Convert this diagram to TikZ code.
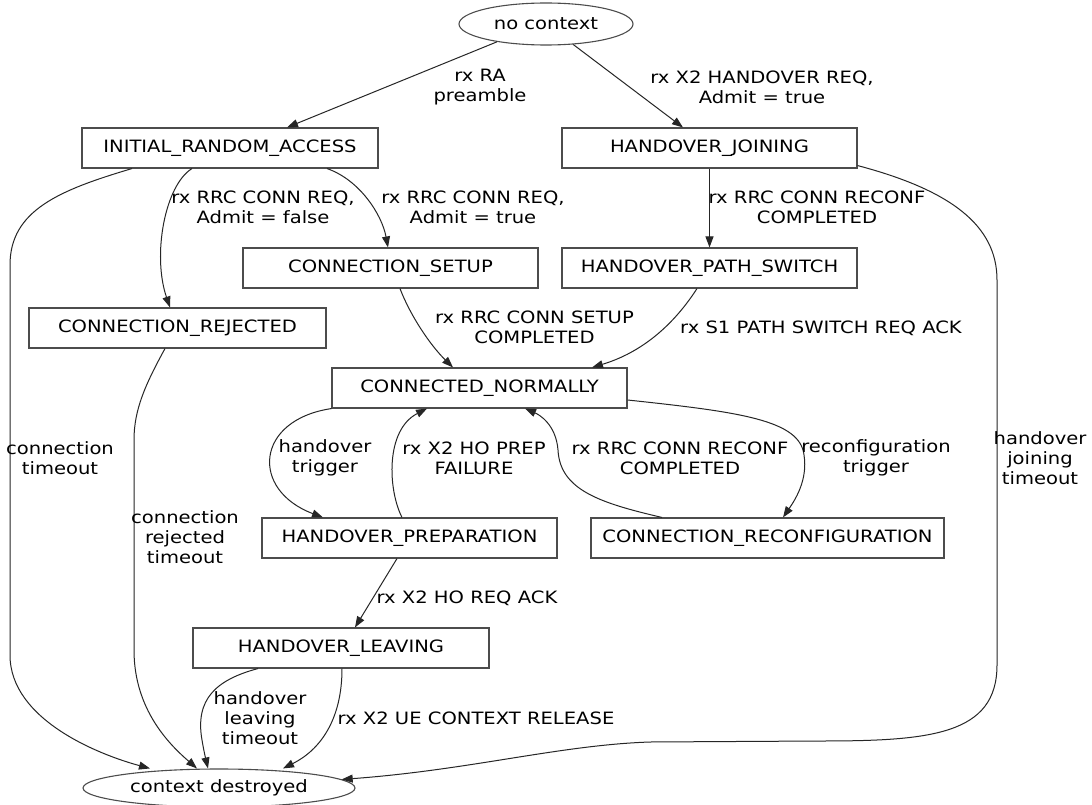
\documentclass[tikz,border=0pt]{standalone}
\usepackage{fontspec}
\setmainfont{DejaVu Sans}[FakeStretch=1.15]
\usetikzlibrary{arrows.meta,shapes.geometric}

\tikzset{
  state/.style={draw=black!70, line width=1.1pt, minimum height=40pt, inner sep=0pt,
                font=\fontsize{17}{20}\selectfont},
  endstate/.style={ellipse, draw=black!70, line width=1.1pt, inner sep=0pt,
                font=\fontsize{17}{20}\selectfont},
  lbl/.style={align=center, inner sep=0pt, font=\fontsize{17}{20}\selectfont},
  edge/.style={draw=black!85, line width=1pt, -{Triangle[length=11pt,width=8pt]}},
}

\begin{document}
\begin{tikzpicture}[x=1pt,y=-1pt]
\useasboundingbox[fill=white] (0,0) rectangle (1092,805);

% states
\node[endstate, minimum width=174pt, minimum height=42pt] (nc) at (546,24) {no context};
\node[state, minimum width=296pt] (ira) at (230,148) {INITIAL\_RANDOM\_ACCESS};
\node[state, minimum width=295pt] (hj)  at (709.5,148) {HANDOVER\_JOINING};
\node[state, minimum width=295pt] (cs)  at (390.5,268) {CONNECTION\_SETUP};
\node[state, minimum width=295pt] (hps) at (709.5,268) {HANDOVER\_PATH\_SWITCH};
\node[state, minimum width=297pt] (cr)  at (177.5,328) {CONNECTION\_REJECTED};
\node[state, minimum width=295pt] (cn)  at (479.5,388) {CONNECTED\_NORMALLY};
\node[state, minimum width=295pt] (hp)  at (409.5,538) {HANDOVER\_PREPARATION};
\node[state, minimum width=353pt] (rc)  at (767.5,538) {CONNECTION\_RECONFIGURATION};
\node[state, minimum width=296pt] (hl)  at (341,648) {HANDOVER\_LEAVING};
\node[endstate, minimum width=272pt, minimum height=38pt] (cd) at (219,788) {context destroyed};

% transitions
\draw[edge] (nc.200) -- ([xshift=57pt]ira.north);
\draw[edge] (nc.-37) -- ([xshift=-26.5pt]hj.north);

\draw[edge] ([xshift=-38pt]ira.south) .. controls (165,185) and (152,255) .. ([xshift=-7.5pt]cr.north);
\draw[edge] ([xshift=97pt]ira.south) .. controls (360,180) and (382,215) .. ([xshift=-2.5pt]cs.north);
\draw[edge] ([xshift=-98pt]ira.south) .. controls (60,190) and (10,210) .. (10,265)
  -- (10,655) .. controls (10,720) and (100,755) .. ([xshift=-69pt]cd.north);

\draw[edge] (hj.south) -- (hps.north);
\draw[edge] ([yshift=3pt]hj.south east) .. controls (950,190) and (997,225) .. (997,280)
  -- (997,665) .. controls (997,735) and (930,741) .. (820,741)
  -- (650,742) .. controls (560,745) and (470,770) .. (cd.4);

\draw[edge] ([xshift=9.5pt]cs.south) .. controls (410,315) and (430,345) .. ([xshift=-26.5pt]cn.north);
\draw[edge] ([xshift=-12.5pt]hps.south) .. controls (680,315) and (650,350) .. ([xshift=112.5pt]cn.north);

\draw[edge] ([xshift=-12.5pt]cr.south) .. controls (145,385) and (134,410) .. (134,440)
  -- (134,650) .. controls (134,710) and (170,745) .. ([xshift=-22pt]cd.north);

\draw[edge] (cn.south west) .. controls (255,420) and (250,490) .. ([xshift=-86.5pt]hp.north);
\draw[edge] ([xshift=-7.5pt]hp.north) .. controls (388,490) and (385,430) .. ([xshift=-52.5pt]cn.south);
\draw[edge] ([xshift=-105.5pt]rc.north) .. controls (600,503) and (560,490) .. (558,450)
  .. controls (556,425) and (540,415) .. ([xshift=45.5pt]cn.south);
\draw[edge] ([yshift=-12pt]cn.east) .. controls (740,412) and (800,420) .. (804,455)
  .. controls (808,480) and (795,500) .. ([xshift=15.5pt]rc.north);

\draw[edge] ([xshift=-12.5pt]hp.south) -- ([xshift=14pt]hl.north);
\draw[edge] ([xshift=-83pt]hl.south) .. controls (215,680) and (195,700) .. (202,740)
  .. controls (204,752) and (206,760) .. ([xshift=-11pt]cd.north);
\draw[edge] ([xshift=1pt]hl.south) .. controls (342,720) and (320,750) .. ([xshift=64pt]cd.north);

% transition labels
\node[lbl] (l1)  at (480,87.5)  {rx RA\\preamble};
\node[lbl] (l2)  at (762,87.5)  {rx X2 HANDOVER REQ,\\Admit = true};
\node[lbl] (l3)  at (263,207.5) {rx RRC CONN REQ,\\Admit = false};
\node[lbl] (l4)  at (473,207.5) {rx RRC CONN REQ,\\Admit = true};
\node[lbl] (l5)  at (817,207.5) {rx RRC CONN RECONF\\COMPLETED};
\node[lbl] (l6)  at (534.5,327) {rx RRC CONN SETUP\\COMPLETED};
\node[lbl] (l7)  at (821,328)   {rx S1 PATH SWITCH REQ ACK};
\node[lbl] (l8)  at (60,458)    {connection\\timeout};
\node[lbl] (l9)  at (325,458)   {handover\\trigger};
\node[lbl] (l10) at (474,458)   {rx X2 HO PREP\\FAILURE};
\node[lbl] (l11) at (680,458)   {rx RRC CONN RECONF\\COMPLETED};
\node[lbl] (l12) at (876,458)   {reconfiguration\\trigger};
\node[lbl] (l13) at (1040,458)  {handover\\joining\\timeout};
\node[lbl] (l14) at (185,537.5) {connection\\rejected\\timeout};
\node[lbl] (l15) at (467,598)   {rx X2 HO REQ ACK};
\node[lbl] (l16) at (260,718)   {handover\\leaving\\timeout};
\node[lbl] (l17) at (476,718)   {rx X2 UE CONTEXT RELEASE};
\end{tikzpicture}
\end{document}
